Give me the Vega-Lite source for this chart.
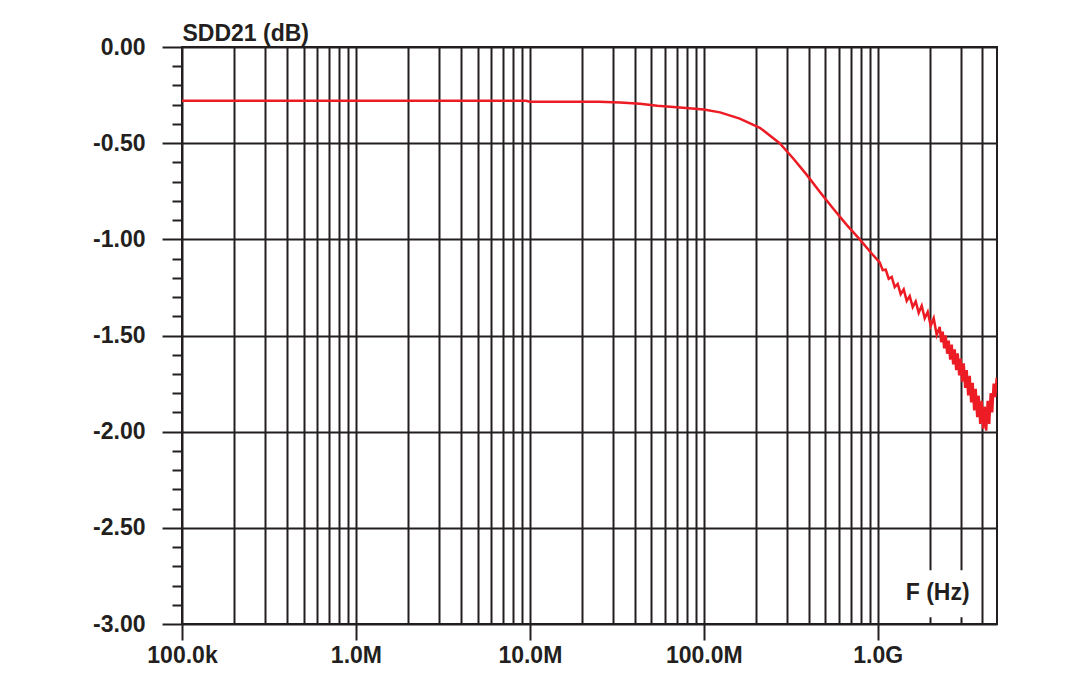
{
  "$schema": "https://vega.github.io/schema/vega-lite/v6.json",
  "width": 815,
  "height": 577,
  "autosize": "none",
  "padding": {"left": 182, "top": 47, "right": 83, "bottom": 57},
  "background": "white",
  "config": {
    "view": {"stroke": "#231f20", "strokeWidth": 2},
    "font": "Liberation Sans"
  },
  "datasets": {
    "curve": [
      {"f": 1e5, "db": -0.28},
      {"f": 1e6, "db": -0.28},
      {"f": 9.5e6, "db": -0.28},
      {"f": 1.0e7, "db": -0.285},
      {"f": 2.5e7, "db": -0.285},
      {"f": 3.3e7, "db": -0.289},
      {"f": 4.3e7, "db": -0.295},
      {"f": 5.4e7, "db": -0.305},
      {"f": 7.3e7, "db": -0.315},
      {"f": 1.0e8, "db": -0.325},
      {"f": 1.24e8, "db": -0.34},
      {"f": 1.61e8, "db": -0.372},
      {"f": 2.1e8, "db": -0.42},
      {"f": 2.73e8, "db": -0.5},
      {"f": 3.25e8, "db": -0.577},
      {"f": 3.91e8, "db": -0.665},
      {"f": 4.64e8, "db": -0.753},
      {"f": 5.51e8, "db": -0.837},
      {"f": 6.63e8, "db": -0.925},
      {"f": 7.88e8, "db": -1.0},
      {"f": 9.36e8, "db": -1.08},
      {"f": 1.0268e9, "db": -1.12},
      {"f": 1.0684e9, "db": -1.16},
      {"f": 1.1117e9, "db": -1.158},
      {"f": 1.1566e9, "db": -1.205},
      {"f": 1.2035e9, "db": -1.195},
      {"f": 1.2524e9, "db": -1.248},
      {"f": 1.3028e9, "db": -1.232},
      {"f": 1.3555e9, "db": -1.285},
      {"f": 1.4106e9, "db": -1.26},
      {"f": 1.4678e9, "db": -1.32},
      {"f": 1.5273e9, "db": -1.295},
      {"f": 1.5891e9, "db": -1.352},
      {"f": 1.6535e9, "db": -1.323},
      {"f": 1.7204e9, "db": -1.382},
      {"f": 1.7901e9, "db": -1.345},
      {"f": 1.8627e9, "db": -1.41},
      {"f": 1.9381e9, "db": -1.377},
      {"f": 2.0166e9, "db": -1.45},
      {"f": 2.0984e9, "db": -1.41},
      {"f": 2.1834e9, "db": -1.497},
      {"f": 2.272e9, "db": -1.455},
      {"f": 2.317e9, "db": -1.535},
      {"f": 2.364e9, "db": -1.48},
      {"f": 2.411e9, "db": -1.567},
      {"f": 2.46e9, "db": -1.5},
      {"f": 2.508e9, "db": -1.595},
      {"f": 2.559e9, "db": -1.527},
      {"f": 2.61e9, "db": -1.625},
      {"f": 2.663e9, "db": -1.547},
      {"f": 2.716e9, "db": -1.65},
      {"f": 2.771e9, "db": -1.572},
      {"f": 2.826e9, "db": -1.68},
      {"f": 2.883e9, "db": -1.593},
      {"f": 2.941e9, "db": -1.707},
      {"f": 2.999e9, "db": -1.62},
      {"f": 3.059e9, "db": -1.74},
      {"f": 3.121e9, "db": -1.645},
      {"f": 3.184e9, "db": -1.772},
      {"f": 3.247e9, "db": -1.68},
      {"f": 3.312e9, "db": -1.812},
      {"f": 3.379e9, "db": -1.71},
      {"f": 3.446e9, "db": -1.848},
      {"f": 3.516e9, "db": -1.746},
      {"f": 3.586e9, "db": -1.889},
      {"f": 3.658e9, "db": -1.777},
      {"f": 3.732e9, "db": -1.925},
      {"f": 3.806e9, "db": -1.813},
      {"f": 3.883e9, "db": -1.96},
      {"f": 3.96e9, "db": -1.84},
      {"f": 4.04e9, "db": -1.985},
      {"f": 4.121e9, "db": -1.87},
      {"f": 4.203e9, "db": -1.995},
      {"f": 4.288e9, "db": -1.84},
      {"f": 4.374e9, "db": -1.96},
      {"f": 4.461e9, "db": -1.8},
      {"f": 4.551e9, "db": -1.9},
      {"f": 4.642e9, "db": -1.75},
      {"f": 4.735e9, "db": -1.82},
      {"f": 4.83e9, "db": -1.72}
    ],
    "labels": [{"label": "F (Hz)"}]
  },
  "layer": [
    {
      "data": {"name": "curve"},
      "mark": {"type": "line", "color": "#ed1c24", "strokeWidth": 2.5, "clip": true},
      "encoding": {
        "x": {
          "field": "f",
          "type": "quantitative",
          "scale": {"type": "log", "domain": [1e5, 4.85e9], "nice": false},
          "axis": {
            "values": [1e5, 2e5, 3e5, 4e5, 5e5, 6e5, 7e5, 8e5, 9e5, 1e6, 2e6, 3e6, 4e6, 5e6, 6e6, 7e6, 8e6, 9e6, 1e7, 2e7, 3e7, 4e7, 5e7, 6e7, 7e7, 8e7, 9e7, 1e8, 2e8, 3e8, 4e8, 5e8, 6e8, 7e8, 8e8, 9e8, 1e9, 2e9, 3e9, 4e9],
            "tickCount": 100,
            "zindex": 0,
            "grid": true,
            "gridColor": "#231f20",
            "gridWidth": 2,
            "gridOpacity": 1,
            "domain": false,
            "ticks": true,
            "tickSize": 16,
            "tickWidth": 2,
            "tickColor": "#231f20",
            "tickOpacity": {"condition": {"test": "abs(log(datum.value)/LN10 - round(log(datum.value)/LN10)) < 0.01", "value": 1}, "value": 0},
            "labelExpr": "abs(datum.value-1e5)<1 ? '100.0k' : abs(datum.value-1e6)<1 ? '1.0M' : abs(datum.value-1e7)<1 ? '10.0M' : abs(datum.value-1e8)<1 ? '100.0M' : abs(datum.value-1e9)<1 ? '1.0G' : ''",
            "labelFont": "Liberation Sans",
            "labelFontWeight": "bold",
            "labelFontSize": 23,
            "labelColor": "#231f20",
            "labelPadding": 4,
            "labelOverlap": false,
            "labelFlush": false,
            "title": null
          }
        },
        "y": {
          "field": "db",
          "type": "quantitative",
          "scale": {"domain": [-3, 0], "nice": false, "zero": false},
          "axis": {
            "values": [0, -0.1, -0.2, -0.3, -0.4, -0.5, -0.6, -0.7, -0.8, -0.9, -1.0, -1.1, -1.2, -1.3, -1.4, -1.5, -1.6, -1.7, -1.8, -1.9, -2.0, -2.1, -2.2, -2.3, -2.4, -2.5, -2.6, -2.7, -2.8, -2.9, -3.0],
            "tickCount": 100,
            "zindex": 0,
            "grid": true,
            "gridColor": "#231f20",
            "gridWidth": 2,
            "gridOpacity": {"condition": {"test": "abs(datum.value*2 - round(datum.value*2)) < 0.001", "value": 1}, "value": 0},
            "domain": false,
            "ticks": true,
            "tickWidth": 2,
            "tickColor": "#231f20",
            "tickSize": {"condition": {"test": "abs(datum.value*2 - round(datum.value*2)) < 0.001", "value": 20}, "value": 10},
            "labelExpr": "abs(datum.value*2 - round(datum.value*2)) < 0.001 ? replace(format(datum.value, '.2f'), '\u2212', '-') : ''",
            "labelFont": "Liberation Sans",
            "labelFontWeight": "bold",
            "labelFontSize": 23,
            "labelColor": "#231f20",
            "labelPadding": 17,
            "labelOverlap": false,
            "labelFlush": false,
            "labelBaseline": "middle",
            "title": "SDD21 (dB)",
            "titleAngle": 0,
            "titleAlign": "left",
            "titleBaseline": "alphabetic",
            "titleX": 0,
            "titleY": -7,
            "titleFont": "Liberation Sans",
            "titleFontWeight": "bold",
            "titleFontSize": 23,
            "titleColor": "#231f20"
          }
        }
      }
    },
    {
      "data": {"name": "labels"},
      "mark": {"type": "rect", "color": "white", "opacity": 1},
      "encoding": {
        "x": {"datum": 1.33e9, "type": "quantitative"},
        "x2": {"datum": 3.62e9},
        "y": {"datum": -2.72, "type": "quantitative"},
        "y2": {"datum": -2.965}
      }
    },
    {
      "data": {"name": "labels"},
      "mark": {"type": "text", "fontWeight": "bold", "fontSize": 23, "font": "Liberation Sans", "align": "center", "baseline": "alphabetic", "color": "#231f20"},
      "encoding": {
        "x": {"datum": 2.21e9, "type": "quantitative"},
        "y": {"datum": -2.875, "type": "quantitative"},
        "text": {"field": "label"}
      }
    }
  ]
}
